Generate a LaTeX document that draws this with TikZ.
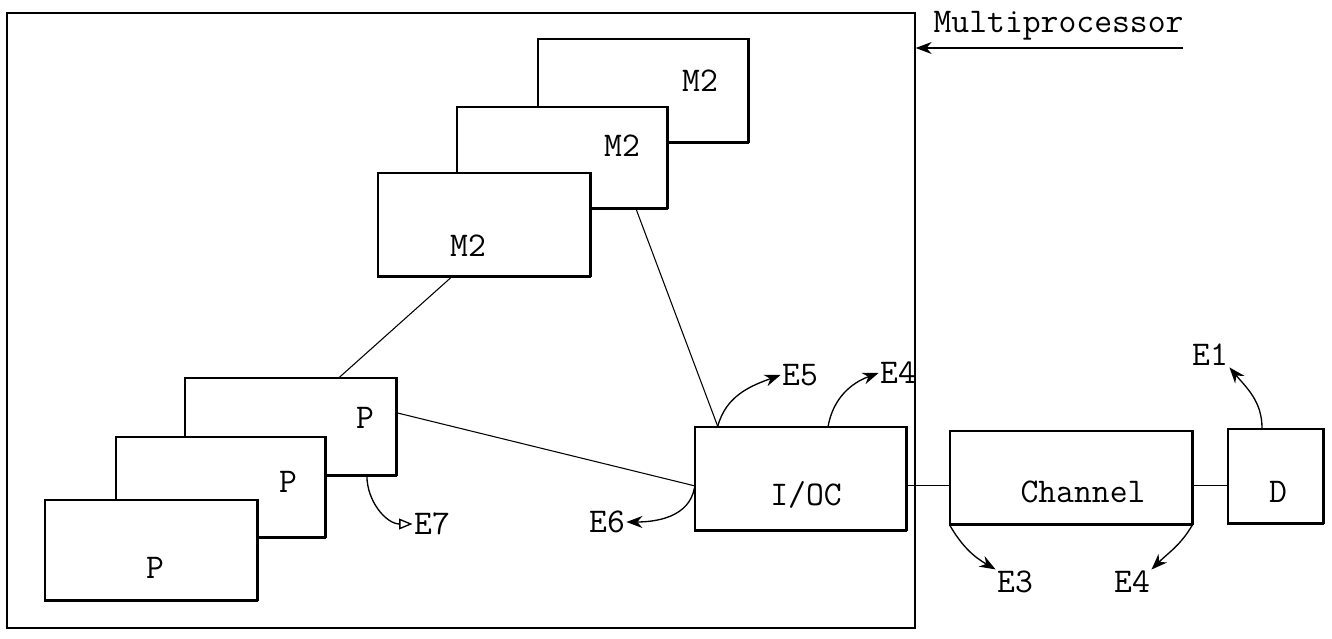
\documentclass[tikz,border=0pt]{standalone}
\usetikzlibrary{fit,calc,arrows.meta}
\tikzset{
  box/.style={draw, fill=white, line width=0.9pt, inner sep=0pt},
  lab/.style={font=\ttfamily\fontsize{26}{29}\selectfont, inner sep=1pt},
  conn/.style={line width=0.8pt},
  earrow/.style={line width=1pt, -{Stealth[length=12pt,width=9pt]}},
  oarrow/.style={line width=1pt, -{Triangle[open,length=10pt,width=8pt]}},
}
\newcommand\mybox[3]{\node[box, fit={#2 #3}] (#1) {};
  \draw[line width=2pt] (#1.north east) -- (#1.south east);
  \draw[line width=1.4pt] (#1.south east) -- (#1.south west);}
\begin{document}
\begin{tikzpicture}[x=0.75pt,y=-0.75pt]
\useasboundingbox (0,0) rectangle (1332,639);
% outer multiprocessor frame
\node[draw, line width=1pt, inner sep=0pt, fit={(7,13) (915,628)}] (mp) {};
\node[lab, anchor=base west] (mpl) at (932,32) {Multiprocessor};
\coordinate (mpa) at (1183,48);
\draw[line width=0.8pt, -{Stealth[length=12pt,width=9pt]}] (mpa) -- (mpa -| mp.east);
% memories
\mybox{m2a}{(538,39)}{(748,142)}
\node[lab] (m2al) at (700,81) {M2};
\mybox{m2b}{(457,107)}{(667,208)}
\node[lab] (m2bl) at (622,146) {M2};
\mybox{m2c}{(378,173)}{(590,276)}
\node[lab] (m2cl) at (468,246) {M2};
% processors
\mybox{pa}{(185,378)}{(396,475)}
\node[lab] (pal) at (365,418) {P};
\mybox{pb}{(116,437)}{(325,537)}
\node[lab] (pbl) at (288,482) {P};
\mybox{pc}{(45,500)}{(257,600)}
\node[lab] (pcl) at (155,568) {P};
% I/O controller, channel, device
\mybox{ioc}{(695,427)}{(906,530)}
\node[lab] (iocl) at (806,495) {I/OC};
\mybox{ch}{(950,431)}{(1192,524)}
\node[lab] (chl) at (1083,492) {Channel};
\mybox{d}{(1228,429)}{(1323,523)}
\node[lab] (dl) at (1278,492) {D};
% connectors
\coordinate (m2cb) at ($(m2c.south west)!0.35!(m2c.south east)$);
\coordinate (pat) at ($(pa.north west)!0.73!(pa.north east)$);
\draw[conn] (m2cb) -- (pat);
\coordinate (m2bb) at ($(m2b.south west)!0.85!(m2b.south east)$);
\coordinate (ioct) at ($(ioc.north west)!0.11!(ioc.north east)$);
\draw[conn] (m2bb) -- (ioct);
\coordinate (par) at ($(pa.north east)!0.36!(pa.south east)$);
\coordinate (iocw) at ($(ioc.north west)!0.57!(ioc.south west)$);
\draw[conn] (par) -- (iocw);
\coordinate (chw) at ($(ch.north west)!0.58!(ch.south west)$);
\draw[conn] (ioc.east |- chw) -- (chw);
\draw[conn] (ch.east |- chw) -- (d.west |- chw);
% events
\node[lab] (e5) at (800,375) {E5};
\draw[earrow] (ioct) to[out=75,in=200] (e5.west);
\node[lab] (e4a) at (898,373) {E4};
\coordinate (ioct2) at ($(ioc.north west)!0.63!(ioc.north east)$);
\draw[earrow] (ioct2) to[out=80,in=200] (e4a.west);
\node[lab] (e6) at (607,522) {E6};
\coordinate (iocw2) at ($(ioc.north west)!0.59!(ioc.south west)$);
\draw[earrow] (iocw2) to[out=-100,in=0] (e6.east);
\node[lab] (e7) at (432,524) {E7};
\coordinate (pab) at ($(pa.south west)!0.86!(pa.south east)$);
\draw[oarrow] (pab) to[out=-90,in=180] (e7.west);
\node[lab] (e3) at (1015,582) {E3};
\draw[earrow] (ch.south west) to[out=-60,in=150] (e3.north west);
\node[lab] (e4b) at (1132,582) {E4};
\draw[earrow] (ch.south east) to[out=-120,in=45] (e4b.north east);
\node[lab] (e1) at (1210,355) {E1};
\coordinate (dt) at ($(d.north west)!0.36!(d.north east)$);
\draw[earrow] (dt) to[out=90,in=-50] (e1.south east);
\end{tikzpicture}
\end{document}
